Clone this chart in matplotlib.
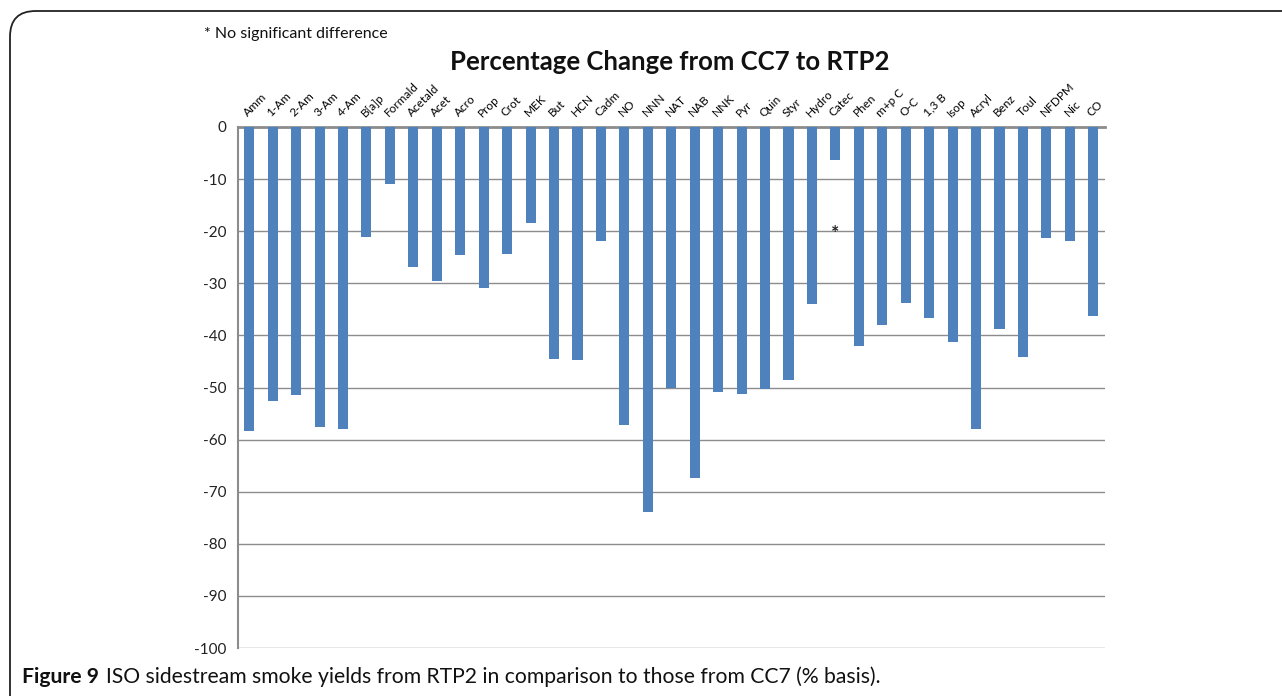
import matplotlib
matplotlib.use("Agg")
import matplotlib.pyplot as plt
from matplotlib.patches import FancyBboxPatch
import numpy as np

categories = ["Amm", "1-Am", "2-Am", "3-Am", "4-Am", "B[a]p", "Formald", "Acetald", "Acet",
              "Acro", "Prop", "Crot", "MEK", "But", "HCN", "Cadm", "NO", "NNN", "NAT", "NAB",
              "NNK", "Pyr", "Quin", "Styr", "Hydro", "Catec", "Phen", "m+p C", "O-C", "1,3 B",
              "Isop", "Acryl", "Benz", "Toul", "NFDPM", "Nic", "CO"]
values = [-58.3, -52.6, -51.4, -57.5, -57.9, -21.2, -10.9, -26.9, -29.6,
          -24.6, -30.9, -24.4, -18.4, -44.5, -44.7, -21.9, -57.2, -73.9, -50.1, -67.4,
          -50.9, -51.2, -50.3, -48.6, -34.0, -6.3, -42.0, -38.0, -33.8, -36.7,
          -41.3, -58.0, -38.8, -44.1, -21.3, -21.9, -36.3]
not_significant = ["Catec"]
title = "Percentage Change from CC7 to RTP2"
note = "* No significant difference"

plt.rcParams['font.family'] = ['Lato', 'DejaVu Sans']
plt.rcParams['axes.unicode_minus'] = False

fig = plt.figure(figsize=(12.82, 6.96), dpi=100)
W, H = 1282, 696

# frame
frame = FancyBboxPatch((10 / W, -0.05), 1.2, 1 - 11 / H + 0.05,
                       boxstyle="round,pad=0,rounding_size=0.02",
                       transform=fig.transFigure, fill=False, edgecolor="#222222",
                       linewidth=1.3, mutation_aspect=W / H)
fig.patches.append(frame)

ax = fig.add_axes([237.5 / W, 1 - 648 / H, (1105 - 237.5) / W, (648 - 127) / H])
x = np.arange(len(categories))
ax.bar(x, values, width=0.43, color="#4F81BD", zorder=3)
ax.set_xlim(-0.5, len(categories) - 0.5)
ax.set_ylim(-100, 0)
ax.set_yticks(np.arange(-100, 1, 10))
ax.yaxis.grid(True, color="#8c8c8c", linewidth=1, zorder=0)
ax.tick_params(axis='y', length=0, labelsize=11, pad=8)
for lab in ax.get_yticklabels():
    lab.set_color("#222222")

ax.xaxis.tick_top()
ax.set_xticks(x)
ax.set_xticklabels(categories, rotation=45, ha='left', va='bottom',
                   rotation_mode='anchor', fontsize=8.5)
ax.tick_params(axis='x', length=0, pad=6)
ax.spines['right'].set_visible(False)
ax.spines['bottom'].set_visible(False)
ax.spines['top'].set_color("#8c8c8c")
ax.spines['top'].set_linewidth(2)
ax.spines['left'].set_color("#8c8c8c")
ax.spines['left'].set_linewidth(1.5)

for c in not_significant:
    i = categories.index(c)
    ax.text(i, -20.4, "*", ha='center', va='center', fontsize=14,
            fontweight='bold', color="#222222")

fig.text(670 / W, 1 - 62 / H, title, ha='center', va='center', fontsize=18.5,
         fontweight='bold', color="#111111")
fig.text(204 / W, 1 - 34 / H, note, ha='left', va='center', fontsize=11.5, color="#111111")

fig.text(22 / W, 1 - 677 / H, "Figure 9", ha='left', va='center', fontsize=15.2,
         fontweight='bold', color="#111111")
fig.text(106 / W, 1 - 677 / H,
         "ISO sidestream smoke yields from RTP2 in comparison to those from CC7 (% basis).",
         ha='left', va='center', fontsize=15.2, color="#111111")

fig.savefig("out.png", dpi=100)
